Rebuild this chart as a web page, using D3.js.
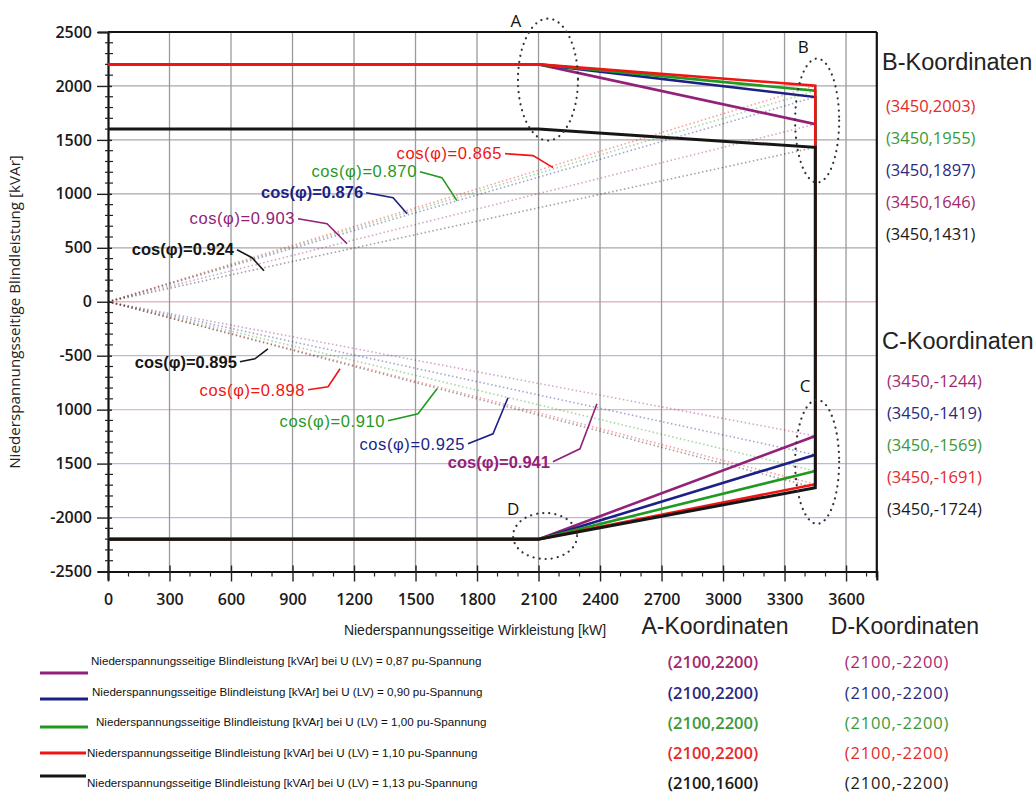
<!DOCTYPE html>
<html><head><meta charset="utf-8">
<script src="https://cdn.jsdelivr.net/npm/d3@7"></script>
<style>body{margin:0;background:#fff} svg{display:block}</style>
</head><body><svg id="c" width="1034" height="796"></svg>
<script>
// ---------- data ----------
const seriesVoltage = ["0,87", "0,90", "1,00", "1,10", "1,13"];
const pointX       = [0, 2100, 3450, 3450, 2100, 0];
const series087    = [2200, 2200, 1646, -1244, -2200, -2200];
const series090    = [2200, 2200, 1897, -1419, -2200, -2200];
const series100    = [2200, 2200, 1955, -1569, -2200, -2200];
const series110    = [2200, 2200, 2003, -1691, -2200, -2200];
const series113    = [1600, 1600, 1431, -1724, -2200, -2200];
const xTicks       = [0, 300, 600, 900, 1200, 1500, 1800, 2100, 2400, 2700, 3000, 3300, 3600];
const yTicks       = [2500, 2000, 1500, 1000, 500, 0, -500, -1000, -1500, -2000, -2500];
const yTickLabels  = ["2500", "2000", "1500", "1000", "500", "0", "-500", "1000", "1500", "-2000", "-2500"];
// cos(phi) label tip positions (data units) for upper / lower lines
const upperTipX = [1166, 1459, 1702, 2171, 761];
const upperTipY = [538, 816, 937, 1243, 288];
const lowerTipX = [2385, 1951, 1605, 1132, 780];
const lowerTipY = [-946, -890, -807, -621, -436];

// ---------- styles / layout ----------
const colors = ["#93217a", "#1c1f86", "#1f9a1f", "#f01414", "#161616"];
const coordColors = ["#a3286f", "#2a2a80", "#3a9a3a", "#e42a2a", "#1a1a1a"];
const upperLeader = [ // [elbow dx,dy], [end dx,dy], bold
  [[-20,-20],[-49,-25],false],
  [[-14,-16],[-41,-21],true],
  [[-15,-23],[-37,-29],false],
  [[-20,-12],[-48,-14],false],
  [[-12,-13],[-27,-21],true]];
const lowerLeader = [
  [[-17,45],[-44,58],true],
  [[-15,36],[-40,46],false],
  [[-19,25],[-49,32],false],
  [[-12,18],[-32,21],false],
  [[-13,10],[-28,13],true]];

const svg = d3.select("#c");
const x = d3.scaleLinear().domain([0, 3750]).range([108, 876.8]);
const y = d3.scaleLinear().domain([-2500, 2500]).range([571.5, 32]);

const allSeries = [series087, series090, series100, series110, series113];

// gridlines
const hGridColor = v => v < 0 ? (v === -1000 ? "#e3b7c4" : "#b8b8e0") : (v === 0 ? "#e6b8c0" : "#a8a8a8");
svg.append("g").selectAll("line").data(yTicks.filter(v => v > -2500 && v < 2500)).join("line")
  .attr("x1", x(0)).attr("x2", x(3750)).attr("y1", d => y(d)).attr("y2", d => y(d))
  .attr("stroke", d => hGridColor(d)).attr("stroke-width", 1.3);
svg.append("g").selectAll("line").data(xTicks.filter(v => v > 0)).join("line")
  .attr("x1", d => x(d)).attr("x2", d => x(d)).attr("y1", y(2500)).attr("y2", y(-2500))
  .attr("stroke", "#9a9a9a").attr("stroke-width", 1.3);

// dotted cos(phi) rays from origin to B and C points
const rays = svg.append("g");
allSeries.forEach((s, i) => {
  [s[2], s[3]].forEach(v => {
    rays.append("line").attr("x1", x(0)).attr("y1", y(0)).attr("x2", x(3450)).attr("y2", y(v))
      .attr("stroke", colors[i]).attr("stroke-opacity", 0.4).attr("stroke-width", 1.6)
      .attr("stroke-dasharray", "1.5,2.5");
  });
});

// frame
const frame = svg.append("g").attr("stroke", "#111").attr("stroke-width", 2.2);
frame.append("line").attr("x1", x(0)).attr("x2", x(3750)).attr("y1", y(2500)).attr("y2", y(2500));
frame.append("line").attr("x1", x(3750)).attr("x2", x(3750)).attr("y1", y(2500)).attr("y2", y(-2500) + 6);

// axes
const yAxis = d3.axisLeft(y).tickValues(yTicks).tickSize(10).tickFormat((d, i) => yTickLabels[i]);
const gy = svg.append("g").attr("transform", `translate(${x(0)},0)`).call(yAxis);
const yMinor = d3.range(-2500, 2501, 100).filter(v => v % 500 !== 0);
svg.append("g").selectAll("line").data(yMinor).join("line")
  .attr("x1", x(0) - 3).attr("x2", x(0) + 5).attr("y1", d => y(d)).attr("y2", d => y(d))
  .attr("stroke", "#222").attr("stroke-width", 1.2);
gy.selectAll(".tick line").attr("stroke", "#222").attr("stroke-width", 1.4).attr("x2", -11).attr("x1", 4);
gy.select(".domain").attr("stroke", "#111").attr("stroke-width", 2.2);
gy.selectAll(".tick text").attr("x", -16).attr("font-family", "Open Sans").attr("font-size", 16)
  .attr("font-weight", 600).attr("fill", "#1a1a1a");

const xAxis = d3.axisBottom(x).tickValues(xTicks).tickSize(9).tickFormat(d3.format("d"));
const gx = svg.append("g").attr("transform", `translate(0,${y(-2500)})`).call(xAxis);
const xMinor = d3.range(0, 3701, 100).filter(v => v % 300 !== 0);
svg.append("g").selectAll("line").data(xMinor).join("line")
  .attr("x1", d => x(d)).attr("x2", d => x(d)).attr("y1", y(-2500)).attr("y2", y(-2500) + 5)
  .attr("stroke", "#222").attr("stroke-width", 1.2);
gx.selectAll(".tick line").attr("stroke", "#222").attr("stroke-width", 1.4).attr("y1", -6).attr("y2", 10);
gx.select(".domain").attr("stroke", "#111").attr("stroke-width", 2.2);
gx.selectAll(".tick text").attr("y", 22).attr("font-family", "Open Sans").attr("font-size", 16)
  .attr("font-weight", 600).attr("fill", "#1a1a1a");

// axis titles
svg.append("text").attr("transform", `translate(20,${312}) rotate(-90)`).attr("text-anchor", "middle")
  .attr("font-family", "Open Sans").attr("font-size", 15.2).attr("fill", "#222")
  .text("Niederspannungsseitige Blindleistung [kVAr]");
svg.append("text").attr("x", 475).attr("y", 635).attr("text-anchor", "middle")
  .attr("font-family", "Liberation Sans, Arial").attr("font-size", 14).attr("fill", "#222")
  .text("Niederspannungsseitige Wirkleistung [kW]");

// series lines
const line = d3.line().x((d, i) => x(pointX[i])).y(d => y(d));
svg.append("g").selectAll("path").data(allSeries).join("path")
  .attr("d", d => line(d)).attr("fill", "none")
  .attr("stroke", (d, i) => colors[i]).attr("stroke-width", (d, i) => i === 4 ? 3 : 2.6)
  .attr("stroke-linejoin", "miter");

// cos(phi) annotations
const fmtCos = v => (3450 / Math.sqrt(3450 * 3450 + v * v)).toFixed(3);
const ann = svg.append("g");
function annotate(i, tx, ty, lay, v) {
  const px = x(tx), py = y(ty);
  const [el, en, bold] = lay;
  ann.append("polyline")
    .attr("points", [[px, py], [px + el[0], py + el[1]], [px + en[0], py + en[1]]].map(p => p.join(",")).join(" "))
    .attr("fill", "none").attr("stroke", colors[i]).attr("stroke-width", 1.6);
  ann.append("text").attr("x", px + en[0] - 3).attr("y", py + en[1]).attr("dy", "0.35em")
    .attr("text-anchor", "end").attr("font-family", "Liberation Sans, Arial").attr("font-size", 16.5)
    .attr("font-weight", bold ? 700 : 400).attr("fill", colors[i]).attr("letter-spacing", bold ? 0 : 0.6)
    .text(`cos(φ)=${fmtCos(v)}`);
}
allSeries.forEach((s, i) => {
  annotate(i, upperTipX[i], upperTipY[i], upperLeader[i], s[2]);
  annotate(i, lowerTipX[i], lowerTipY[i], lowerLeader[i], s[3]);
});

// dotted ellipses with letters
const ellipses = [
  {name: "A", cx: 2146, cy: 2059, rx: 30, ry: 61, lx: -32, ly: -59},
  {name: "B", cx: 3459, cy: 1679, rx: 22, ry: 62, lx: -14, ly: -74},
  {name: "C", cx: 3459, cy: -1484, rx: 22, ry: 62, lx: -12, ly: -76},
  {name: "D", cx: 2132, cy: -2171, rx: 32, ry: 23, lx: -32, ly: -27}];
const eg = svg.append("g");
ellipses.forEach(e => {
  eg.append("ellipse").attr("cx", x(e.cx)).attr("cy", y(e.cy)).attr("rx", e.rx).attr("ry", e.ry)
    .attr("fill", "none").attr("stroke", "#333").attr("stroke-width", 2.2)
    .attr("stroke-dasharray", "0.1,6").attr("stroke-linecap", "round");
  eg.append("text").attr("x", x(e.cx) + e.lx).attr("y", y(e.cy) + e.ly).attr("dy", "0.35em")
    .attr("text-anchor", "middle").attr("font-family", "Open Sans").attr("font-size", 17).attr("fill", "#111")
    .text(e.name);
});

// coordinate tables
const kFont = "Liberation Sans, Arial";
svg.append("text").attr("x", 882).attr("y", 62).attr("dy", "0.35em").attr("font-family", kFont)
  .attr("font-size", 23.5).attr("fill", "#222").text("B-Koordinaten");
svg.append("text").attr("x", 882).attr("y", 341).attr("dy", "0.35em").attr("font-family", kFont)
  .attr("font-size", 23.5).attr("fill", "#222").text("C-Koordinaten");
svg.append("text").attr("x", 715).attr("y", 626).attr("dy", "0.35em").attr("text-anchor", "middle")
  .attr("font-family", kFont).attr("font-size", 23).attr("fill", "#222").text("A-Koordinaten");
svg.append("text").attr("x", 905).attr("y", 626).attr("dy", "0.35em").attr("text-anchor", "middle")
  .attr("font-family", kFont).attr("font-size", 23).attr("fill", "#222").text("D-Koordinaten");

const bOrder = d3.range(5).sort((a, b) => allSeries[b][2] - allSeries[a][2]);
const cOrder = d3.range(5).sort((a, b) => allSeries[b][3] - allSeries[a][3]);
const rowB = [106, 138, 170, 202, 234];
const rowC = [381, 413, 445, 477, 509];
bOrder.forEach((si, r) => {
  svg.append("text").attr("x", 886).attr("y", rowB[r]).attr("dy", "0.35em").attr("font-family", "Open Sans")
    .attr("font-size", 16.5).attr("fill", coordColors[si]).text(`(${pointX[2]},${allSeries[si][2]})`);
});
cOrder.forEach((si, r) => {
  svg.append("text").attr("x", 887).attr("y", rowC[r]).attr("dy", "0.35em").attr("font-family", "Open Sans")
    .attr("font-size", 16.5).attr("fill", coordColors[si]).text(`(${pointX[3]},${allSeries[si][3]})`);
});
const rowAD = [662, 693, 723, 753, 783];
allSeries.forEach((s, i) => {
  svg.append("text").attr("x", 713).attr("y", rowAD[i]).attr("dy", "0.35em").attr("text-anchor", "middle")
    .attr("font-family", "Open Sans").attr("font-size", 16.5).attr("font-weight", 600)
    .attr("fill", coordColors[i]).text(`(${pointX[1]},${s[1]})`);
  svg.append("text").attr("x", 897).attr("y", rowAD[i]).attr("dy", "0.35em").attr("text-anchor", "middle")
    .attr("font-family", "Open Sans").attr("font-size", 16.5).attr("letter-spacing", 0.8)
    .attr("fill", coordColors[i]).text(`(${pointX[4]},${s[4]})`);
});

// legend
const legLineY = [673, 699, 727, 753, 776];
const legTextY = [661, 692, 722, 753, 783];
const legTextX = [91, 92, 96, 87, 87];
allSeries.forEach((s, i) => {
  svg.append("line").attr("x1", 40).attr("x2", i >= 3 ? 86 : 88).attr("y1", legLineY[i]).attr("y2", legLineY[i])
    .attr("stroke", colors[i]).attr("stroke-width", 3);
  svg.append("text").attr("x", legTextX[i]).attr("y", legTextY[i]).attr("dy", "0.35em")
    .attr("font-family", "Liberation Sans, Arial").attr("font-size", 11.6).attr("fill", "#111")
    .text(`Niederspannungsseitige Blindleistung [kVAr] bei U (LV) = ${seriesVoltage[i]} pu-Spannung`);
});
</script></body></html>
